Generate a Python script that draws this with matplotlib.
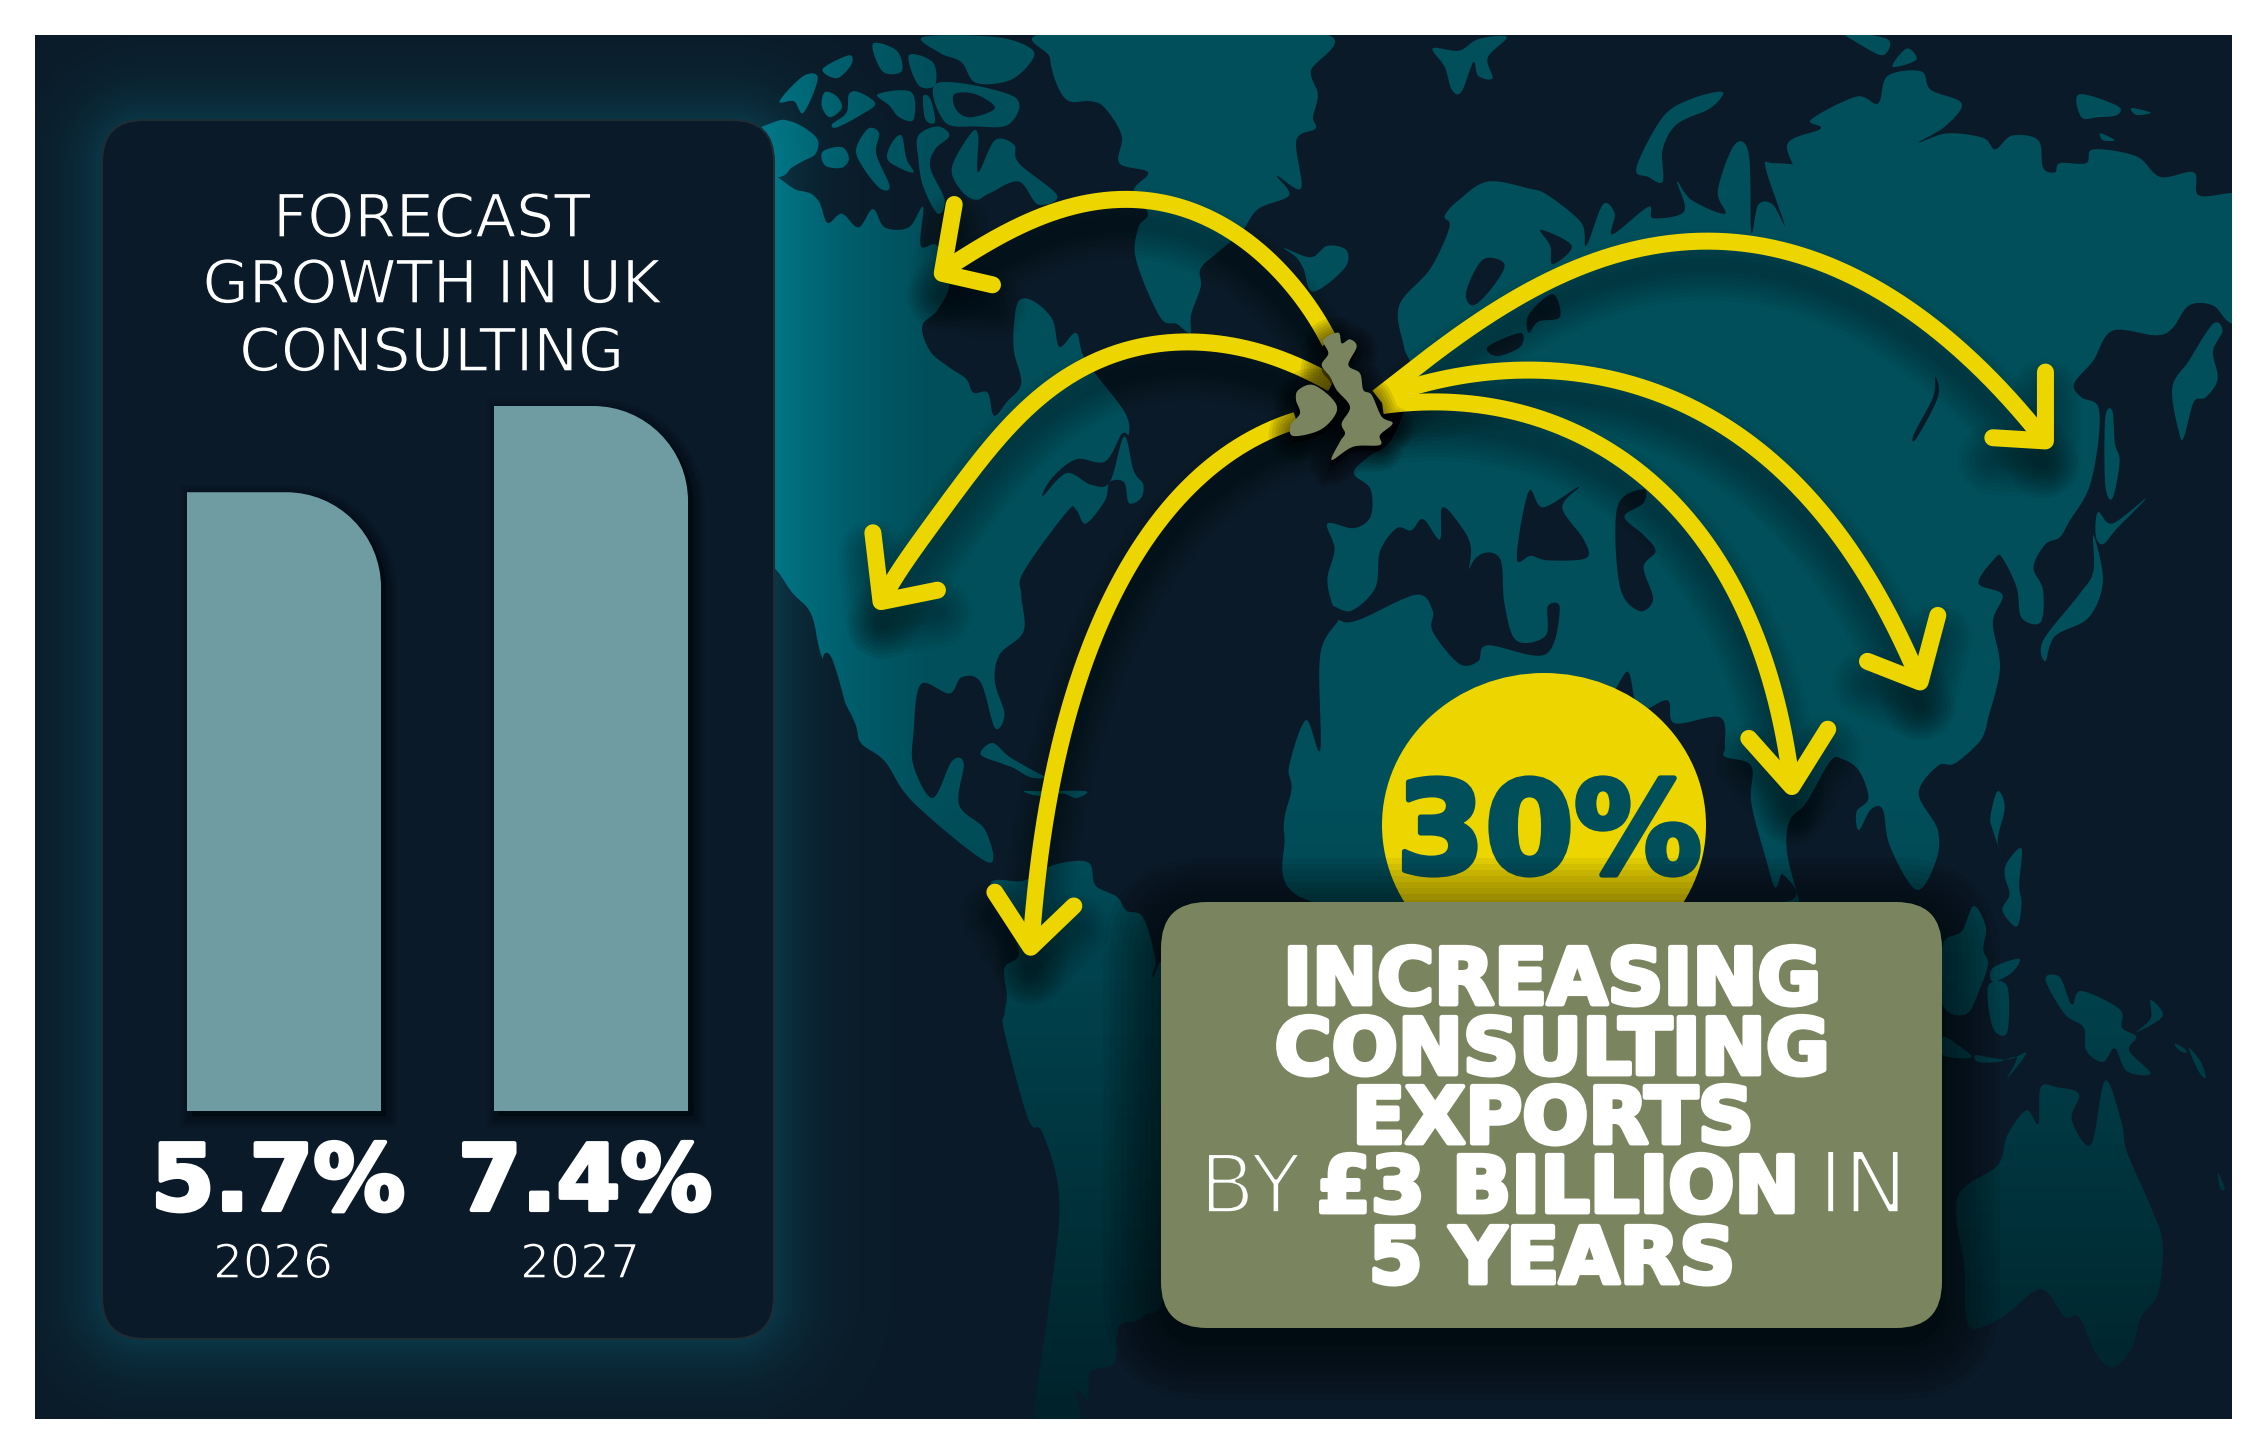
import numpy as np
import matplotlib
matplotlib.use("Agg")
import matplotlib.pyplot as plt
from matplotlib.path import Path
from matplotlib.patches import PathPatch, Rectangle, FancyBboxPatch, Ellipse
from matplotlib.transforms import Affine2D
import matplotlib.patheffects as pe

W, H = 2268, 1455

# chart values
years = ["2026", "2027"]
growth = [5.7, 7.4]

BG = "#0B1A28"
LAND = "#004F5B"
YELLOW = "#EDD600"
OLIVE = "#7A8560"
BAR = "#6F9BA3"

TILES = {"A": (770, 30), "B": (1500, 30), "C": (770, 720), "D": (1500, 720)}


def t(name, pts):
    ox, oy = TILES[name]
    return [(ox + x / 2.09, oy + y / 2.178) for x, y in pts]


def smooth(pts, n=10):
    p = np.array(pts, dtype=float)
    p = np.vstack([p[-1], p, p[0], p[1]])
    out = []
    for i in range(1, len(p) - 2):
        p0, p1, p2, p3 = p[i - 1], p[i], p[i + 1], p[i + 2]
        for s in np.linspace(0, 1, n, endpoint=False):
            out.append(0.5 * (2 * p1 + (p2 - p0) * s
                              + (2 * p0 - 5 * p1 + 4 * p2 - p3) * s ** 2
                              + (3 * p1 - p0 - 3 * p2 + p3) * s ** 3))
    return np.array(out)


def arc(pts, deg=4):
    # one clean sweep through the traced points
    p = np.array(pts, dtype=float)
    s = np.r_[0, np.cumsum(np.hypot(*np.diff(p, axis=0).T))]
    s = s / s[-1]
    wt = np.ones(len(p))
    wt[0] = wt[-1] = 6
    u = np.linspace(0, 1, 240)
    return np.c_[np.polyval(np.polyfit(s, p[:, 0], deg, w=wt), u),
                 np.polyval(np.polyfit(s, p[:, 1], deg, w=wt), u)]


def closed_path(pts):
    v = smooth(pts)
    x, y = v[:, 0], v[:, 1]
    if np.sum(x * np.roll(y, -1) - np.roll(x, -1) * y) < 0:
        v = v[::-1]
    return Path(np.vstack([v, v[0]]), closed=True)


north = t("A", [(-60, 350), (60, 350), (100, 370), (120, 420), (150, 400), (185, 430), (215, 390), (240, 430),
                (290, 430), (320, 385), (315, 470), (350, 470), (375, 550), (350, 610), (318, 645), (335, 700),
                (375, 735), (410, 760), (425, 790), (455, 790), (468, 840), (495, 810), (525, 770), (510, 700),
                (510, 640), (520, 590), (550, 590), (590, 630), (605, 690), (640, 660), (660, 720), (740, 830),
                (750, 880), (735, 880), (700, 940), (640, 935), (590, 975), (570, 1015), (620, 965), (670, 990),
                (710, 985), (740, 885), (760, 960), (780, 990), (775, 1020), (750, 1030), (740, 985), (710, 985),
                (700, 1025), (660, 1075), (640, 1045), (620, 1050), (530, 1180), (525, 1230), (530, 1310),
                (480, 1360), (470, 1420), (490, 1490), (470, 1520), (440, 1420), (400, 1410), (375, 1445),
                (315, 1425), (300, 1530)]) \
    + t("C", [(300, 100), (340, 170), (380, 90), (405, 95), (395, 185), (450, 240), (455, 310), (300, 180),
              (240, 90), (190, 50), (175, 0)]) \
    + t("A", [(110, 1370), (85, 1270), (30, 1200), (-60, 1000)])

greenland = t("A", [(590, 5), (1145, 5), (1130, 90), (1145, 140), (1135, 190), (1140, 215), (1100, 240), (1110, 345),
                    (1060, 318), (1085, 360), (1020, 390), (985, 440), (935, 485), (900, 520), (900, 560), (880, 620),
                    (878, 660), (850, 640), (815, 625), (765, 500), (770, 430), (790, 400), (760, 350), (790, 310),
                    (730, 290), (735, 230), (700, 170), (670, 155), (625, 155), (600, 120), (585, 60)])

eurasia = t("A", [(1150, 1568), (1150, 1360), (1190, 1280), (1175, 1250), (1165, 1195), (1180, 1130), (1165, 1075),
                  (1220, 1085), (1255, 1060), (1255, 1000), (1220, 965), (1250, 930), (1300, 890), (1345, 760),
                  (1325, 690), (1315, 600), (1380, 520), (1420, 430), (1410, 405), (1440, 370), (1500, 330)]) \
    + t("B", [(60, 345), (100, 360), (170, 420), (180, 470), (215, 380), (240, 400), (235, 445), (310, 385),
              (320, 410), (385, 395), (370, 330), (400, 370), (470, 400), (455, 350), (490, 250), (520, 270),
              (525, 440), (540, 380), (570, 380), (595, 425), (555, 300), (570, 290), (640, 300), (640, 340),
              (600, 250), (670, 215), (650, 195), (745, 145), (790, 160), (810, 100), (880, 90), (900, 130),
              (965, 160), (930, 210), (875, 245), (935, 225), (1010, 235), (1035, 260), (1070, 230), (1125, 240),
              (1135, 300), (1160, 310), (1170, 290), (1225, 290), (1240, 260), (1330, 275), (1380, 320), (1450, 310),
              (1460, 360), (1530, 355), (1600, 355), (1600, 640), (1530, 640), (1490, 600), (1440, 600), (1405, 650),
              (1370, 665), (1280, 655), (1240, 720), (1200, 770), (1215, 800), (1250, 820), (1250, 900), (1230, 1000),
              (1190, 1070), (1170, 1105), (1140, 1120), (1115, 1170), (1135, 1220), (1130, 1290), (1090, 1280),
              (1080, 1215), (1050, 1150), (1035, 1150), (1000, 1205), (1050, 1230), (1030, 1290), (1045, 1390),
              (1020, 1500)]) \
    + t("D", [(1015, 20), (1000, 50), (950, 95), (915, 100), (875, 160), (915, 240), (910, 310), (870, 370),
              (815, 275), (800, 195), (775, 195), (750, 240), (745, 200), (770, 170), (750, 110), (715, 85),
              (690, 90), (640, 180), (605, 220), (600, 290), (625, 395), (625, 420), (100, 420)]) \
    + t("C", [(1130, 395), (1075, 250), (1090, 150), (1085, 100), (1120, 0)])

south_america = t("C", [(460, 360), (530, 350), (595, 315), (665, 310), (680, 360), (725, 385), (745, 415), (780, 430),
                        (805, 520), (800, 560), (830, 570), (830, 1200), (780, 1300), (730, 1320), (720, 1400),
                        (670, 1420), (665, 1480), (640, 1460), (645, 1530), (555, 1530), (580, 1300), (605, 1050),
                        (570, 900), (540, 870), (490, 680), (490, 640), (495, 600), (490, 540), (520, 500)])

australia = t("D", [(1130, 800), (1165, 800), (1210, 815), (1195, 870), (1235, 925), (1265, 785), (1300, 880),
                    (1310, 940), (1360, 1060), (1385, 1140), (1375, 1250), (1340, 1300), (1320, 1370), (1280, 1410),
                    (1245, 1380), (1210, 1300), (1180, 1300), (1130, 1240), (1050, 1300), (980, 1320), (970, 1190),
                    (955, 1040), (1040, 970), (1060, 905), (1100, 850), (1125, 880)])

islands = [
    t("A", [(-60, 240), (10, 200), (40, 198), (75, 215), (100, 240), (95, 270), (70, 285), (45, 300), (20, 320), (-60, 320)]),
    t("A", [(110, 265), (150, 255), (165, 280), (150, 300), (115, 295)]),
    t("A", [(180, 260), (205, 215), (228, 225), (222, 270), (250, 340), (230, 345), (195, 300)]),
    t("A", [(255, 245), (275, 230), (285, 280), (300, 310), (270, 300), (245, 280)]),
    t("A", [(115, 135), (140, 145), (150, 170), (125, 190), (108, 165)]),
    t("A", [(165, 140), (185, 135), (220, 160), (190, 185), (140, 212), (130, 205), (160, 180)]),
    t("A", [(20, 155), (70, 100), (100, 105), (70, 180), (50, 155)]),
    t("A", [(110, 85), (165, 55), (170, 75), (140, 105)]),
    t("A", [(215, 30), (265, 45), (275, 90), (235, 90)]),
    t("A", [(290, 55), (340, 70), (345, 120), (310, 120)]),
    t("A", [(225, 140), (295, 135), (300, 195), (270, 190), (250, 165)]),
    t("A", [(320, 145), (335, 150), (345, 200), (325, 195)]),
    t("A", [(350, 115), (510, 145), (500, 205), (430, 210), (365, 200)]),
    t("A", [(310, 230), (350, 210), (375, 230), (345, 260), (335, 300), (365, 370), (350, 400), (320, 340), (310, 280)]),
    t("A", [(380, 300), (420, 225), (435, 230), (435, 310), (470, 240), (510, 250), (520, 290), (600, 360), (560, 380),
            (520, 330), (460, 355), (430, 370), (400, 350)]),
    t("A", [(320, 15), (470, 15), (545, 40), (545, 70), (500, 110), (430, 115), (400, 70), (355, 50)]),
    t("A", [(1075, 475), (1130, 495), (1165, 470), (1205, 480), (1200, 520), (1135, 570), (1115, 520), (1100, 495)]),
    t("A", [(1385, 40), (1440, 45), (1480, 20), (1540, 15), (1500, 60), (1510, 105), (1480, 100), (1470, 70),
            (1445, 135), (1425, 130), (1410, 80)]),
    t("B", [(1420, 880), (1405, 780), (1440, 720), (1490, 640), (1510, 655), (1490, 700), (1500, 760), (1475, 800),
            (1450, 810), (1430, 885)]),
    t("B", [(1250, 1050), (1280, 1075), (1350, 1020), (1290, 1085), (1260, 1120), (1245, 1100)]),
    t("B", [(1265, 845), (1280, 830), (1285, 900), (1295, 940), (1280, 1020), (1265, 990)]),
    t("B", [(1240, 1100), (1260, 1200), (1230, 1280), (1160, 1320), (1140, 1375), (1135, 1330), (1210, 1230), (1240, 1180)]),
    t("B", [(1210, 140), (1290, 165), (1290, 185), (1250, 190), (1215, 190)]),
    t("B", [(1320, 170), (1360, 180), (1330, 185)]),
    t("B", [(1255, 225), (1285, 240), (1260, 240)]),
    t("B", [(285, 300), (340, 190), (400, 150), (465, 135), (440, 170), (370, 205), (340, 260), (340, 330), (310, 320)]),
    t("B", [(720, 5), (810, 20), (800, 55), (750, 30)]),
    t("B", [(820, 80), (850, 40), (870, 65)]),
    t("C", [(440, 75), (465, 50), (500, 80), (550, 110), (575, 125), (545, 125), (510, 105), (485, 95)]),
    t("C", [(530, 155), (570, 155), (660, 155), (640, 170), (610, 160), (560, 165)]),
    t("D", [(1040, 155), (1055, 190), (1040, 260), (1050, 300), (1030, 240), (1025, 210)]),
    t("D", [(1060, 310), (1090, 280), (1085, 360), (1090, 400), (1080, 450), (1050, 415), (1065, 380), (1055, 340)]),
    t("D", [(990, 405), (1015, 450), (1010, 500), (1020, 530), (1005, 580), (975, 640), (925, 620), (925, 490), (965, 460)]),
    t("D", [(1030, 540), (1085, 520), (1070, 550), (1030, 570)]),
    t("D", [(1020, 580), (1060, 580), (1060, 680), (1030, 670)]),
    t("D", [(1140, 565), (1170, 560), (1195, 620), (1215, 590), (1295, 630), (1300, 670), (1330, 690), (1315, 720),
            (1360, 770), (1310, 765), (1285, 715), (1260, 745), (1225, 720), (1220, 670), (1180, 640)]),
    t("D", [(1360, 610), (1385, 645), (1330, 680), (1360, 650)]),
    t("D", [(925, 690), (960, 710), (985, 735), (925, 730)]),
    t("D", [(995, 730), (1060, 740), (1100, 725), (1060, 780), (1080, 735), (1040, 745), (1000, 745)]),
    t("D", [(1410, 705), (1430, 715), (1435, 725), (1420, 720)]),
    t("D", [(1440, 715), (1465, 745), (1475, 780), (1460, 765)]),
    t("D", [(1500, 985), (1515, 1020), (1505, 1020)]),
]

water = [
    t("B", [(35, 1150), (60, 1005), (90, 1040), (165, 995), (130, 1040), (175, 1110), (180, 1150), (100, 1155), (65, 1145)]),
    t("B", [(245, 1040), (300, 1000), (300, 1030), (260, 1060), (300, 1100), (325, 1135), (300, 1170), (320, 1240),
            (290, 1265), (250, 1210)]),
    t("B", [(910, 755), (915, 800), (870, 890), (865, 880), (905, 800)]),
    t("B", [(85, 435), (150, 470), (110, 510), (105, 470)]),
    t("B", [(60, 620), (110, 575), (125, 625), (80, 635), (60, 660)]),
    t("A", [(1490, 500), (1535, 510), (1510, 560), (1470, 600), (1455, 570)]),
    t("A", [(1500, 690), (1568, 660), (1568, 690), (1520, 710)]),
    t("A", [(610, 460), (650, 470), (655, 500), (640, 580), (560, 520), (600, 480)]),
    t("A", [(110, 1370), (130, 1370), (165, 1500), (165, 1540), (120, 1460)]),
    t("A", [(385, 140), (430, 140), (470, 170), (420, 190), (390, 175)]),
    t("A", [(1175, 1255), (1215, 1265), (1265, 1215), (1275, 1135), (1310, 1085), (1340, 1090), (1365, 1065), (1400, 1110),
            (1405, 1040), (1440, 1075), (1465, 1130), (1450, 1220), (1435, 1245), (1475, 1150), (1525, 1150), (1535, 1250),
            (1560, 1330)]) + t("B", [(95, 1320), (100, 1255), (125, 1260), (95, 1360)])
    + t("A", [(1500, 1340), (1480, 1375), (1440, 1380), (1385, 1310), (1385, 1265), (1350, 1230), (1230, 1285), (1190, 1285)]),
    t("B", [(262, 1400), (290, 1480), (350, 1460), (365, 1510), (460, 1497), (470, 1560)])
    + t("D", [(470, 80), (525, 100), (525, 180), (555, 300), (575, 365), (590, 335), (600, 395), (300, 395), (200, 100)]),
]

uk_main = [(1250 + x / 3, 310 + y / 3) for x, y in
           [(220, 90), (265, 68), (275, 100), (300, 88), (320, 110), (295, 165), (330, 190), (340, 240), (365, 255),
            (395, 320), (428, 340), (390, 375), (390, 405), (310, 410), (245, 450), (270, 395), (285, 370), (275, 340),
            (300, 290), (260, 240), (240, 200), (215, 165), (235, 130)]]
uk_ireland = [(1250 + x / 3, 310 + y / 3) for x, y in
              [(145, 240), (190, 225), (250, 270), (258, 310), (210, 360), (130, 378), (122, 345), (150, 310), (138, 270)]]

# arrows: line through the points, then the two barbs around the tip
arrows = [
    (t("A", [(1170, 680), (1020, 480), (880, 395), (720, 368), (560, 410), (360, 525)]),
     t("A", [(385, 380), (360, 530), (465, 555)]), 4),
    (t("A", [(1175, 770), (1100, 730), (1030, 705), (950, 685), (870, 680), (780, 690), (700, 710), (610, 765),
             (530, 830), (460, 915), (400, 985), (320, 1105), (235, 1240)]),
     t("A", [(215, 1095), (232, 1245), (350, 1220)]), 6),
    (t("A", [(1100, 850), (950, 930), (820, 1060), (700, 1260), (610, 1568)])
     + t("C", [(580, 170), (550, 400), (545, 495)]),
     t("C", [(470, 375), (545, 495), (635, 405)]), 4),
    (t("A", [(1270, 800), (1568, 590)])
     + t("B", [(200, 490), (430, 462), (640, 495), (850, 610), (1000, 730), (1135, 890)]),
     t("B", [(1140, 745), (1140, 895), (1030, 888)]), 4),
    (t("A", [(1290, 795), (1568, 745)])
     + t("B", [(90, 740), (300, 775), (500, 885), (680, 1070), (800, 1240), (878, 1420)]),
     t("B", [(915, 1275), (878, 1420), (768, 1375)]), 4),
    (t("A", [(1280, 818), (1568, 840)])
     + t("B", [(200, 890), (350, 1020), (480, 1210), (570, 1420)]) + t("D", [(610, 145)]),
     t("D", [(520, 40), (610, 145), (685, 20)]), 4),
]

fig = plt.figure(figsize=(W / 100, H / 100), dpi=100, facecolor="white")
ax = fig.add_axes([0, 0, 1, 1])
ax.set_xlim(0, W)
ax.set_ylim(H, 0)
ax.axis("off")

FX0, FX1, FY0, FY1 = 35, 2232, 35, 1419
ax.add_patch(Rectangle((FX0, FY0), FX1 - FX0, FY1 - FY0, fc=BG, ec="none", zorder=0))

# land with its colour ramps
yy, xx = np.mgrid[FY0:FY1, FX0:FX1]
top = np.array(matplotlib.colors.to_rgb(LAND))
low = np.array(matplotlib.colors.to_rgb("#00222A"))
lit = np.array(matplotlib.colors.to_rgb("#00707F"))
v = np.clip((yy - 800) / 620.0, 0, 1)[..., None]
h = np.clip((950 - xx) / 180.0, 0, 1)[..., None] ** 1.5 * (1 - v)
land_rgb = top * (1 - v) + low * v
land_rgb = land_rgb * (1 - h) + lit * h
land_paths = [closed_path(p) for p in [north, greenland, eurasia, south_america, australia] + islands]
land_path = Path.make_compound_path(*land_paths)
im = ax.imshow(land_rgb, extent=(FX0, FX1, FY1, FY0), zorder=1, aspect="auto", interpolation="nearest")
im.set_clip_path(land_path, ax.transData)
ax.set_xlim(0, W)
ax.set_ylim(H, 0)

for p in water:
    ax.add_patch(PathPatch(closed_path(p), fc=BG, ec="none", zorder=2))

# teal glow around the panel
PX0, PX1, PY0, PY1, PR = 102, 774, 120, 1339, 42
qx = np.abs(xx - (PX0 + PX1) / 2) - ((PX1 - PX0) / 2 - PR)
qy = np.abs(yy - (PY0 + PY1) / 2) - ((PY1 - PY0) / 2 - PR)
dist = np.hypot(np.maximum(qx, 0), np.maximum(qy, 0)) - PR
glow = np.zeros(dist.shape + (4,))
glow[..., :3] = matplotlib.colors.to_rgb("#0A8FA5")
glow[..., 3] = 0.25 * np.exp(-np.clip(dist, 0, None) / 38.0)
ax.imshow(glow, extent=(FX0, FX1, FY1, FY0), zorder=3, aspect="auto", interpolation="bilinear")
ax.set_xlim(0, W)
ax.set_ylim(H, 0)

panel = FancyBboxPatch((PX0 + PR, PY0 + PR), PX1 - PX0 - 2 * PR, PY1 - PY0 - 2 * PR,
                       boxstyle="round,pad=%d,rounding_size=%d" % (PR, PR), fc=BG, ec="#1E2C34", lw=1.5, zorder=4)
ax.add_patch(panel)

# arrows with soft shadows
PT = 0.72
for line, head, deg in arrows:
    curve = arc(line, deg)
    hx, hy = np.array(head).T
    for w in range(4, 64, 8):
        ax.plot(curve[:, 0], curve[:, 1] + 24, color="black", lw=(10 + w) * PT, alpha=0.035,
                solid_capstyle="round", zorder=5)
        ax.plot(hx, hy + 22, color="black", lw=(10 + w) * PT, alpha=0.035, solid_capstyle="round",
                solid_joinstyle="round", zorder=5)
for line, head, deg in arrows:
    curve = arc(line, deg)
    hx, hy = np.array(head).T
    ax.plot(curve[:, 0], curve[:, 1], color=YELLOW, lw=17 * PT, solid_capstyle="butt", zorder=6)
    ax.plot(hx, hy, color=YELLOW, lw=17 * PT, solid_capstyle="round", solid_joinstyle="round", zorder=6)

# UK on top, darkening what is under it
uk_paths = [closed_path(uk_main), closed_path(uk_ireland)]
for w in range(6, 48, 6):
    for p in uk_paths:
        ax.add_patch(PathPatch(p, fc="black", ec="black", lw=w * PT, alpha=0.09, zorder=7,
                               transform=Affine2D().translate(0, 5) + ax.transData))
for p in uk_paths:
    ax.add_patch(PathPatch(p, fc=OLIVE, ec="none", zorder=8))

# yellow disc and card
ax.add_patch(Ellipse((1544, 825), 324, 304, fc=YELLOW, ec="none", zorder=9))
ax.text(1549, 873, "30%", color=LAND, fontsize=92, fontweight="bold", family="DejaVu Sans",
        ha="center", va="baseline", zorder=10,
        path_effects=[pe.withStroke(linewidth=4, foreground=LAND)])

CX0, CX1, CY0, CY1, CR = 1161, 1942, 902, 1328, 46
for g in range(4, 64, 6):
    ax.add_patch(FancyBboxPatch((CX0 + CR, CY0 + CR + 14), CX1 - CX0 - 2 * CR, CY1 - CY0 - 2 * CR,
                                boxstyle="round,pad=%d,rounding_size=%d" % (CR + g, CR + g),
                                fc="black", ec="none", alpha=0.055, zorder=11))
ax.add_patch(FancyBboxPatch((CX0 + CR, CY0 + CR), CX1 - CX0 - 2 * CR, CY1 - CY0 - 2 * CR,
                            boxstyle="round,pad=%d,rounding_size=%d" % (CR, CR), fc=OLIVE, ec="none", zorder=12))

heavy = [pe.withStroke(linewidth=3.5, foreground="white")]
light = [pe.Stroke(linewidth=2.6, foreground=OLIVE)]
thin = [pe.Stroke(linewidth=1.0, foreground=BG)]
card_lines = [("INCREASING", 1552, 1004), ("CONSULTING", 1552, 1074), ("EXPORTS", 1553, 1143),
              ("£3 BILLION", 1558, 1212), ("5 YEARS", 1552, 1283)]
for txt, x, y in card_lines:
    ax.text(x, y, txt, color="white", fontsize=56, fontweight="bold", family="DejaVu Sans",
            ha="center", va="baseline", zorder=13, path_effects=heavy)
ax.text(1250, 1213, "BY", color="white", fontsize=59, family="DejaVu Sans", ha="center", va="baseline",
        zorder=13, path_effects=light)
ax.text(1863, 1213, "IN", color="white", fontsize=62, family="DejaVu Sans", ha="center", va="baseline",
        zorder=13, path_effects=light)

title_lines = [("FORECAST", 237), ("GROWTH IN UK", 303), ("CONSULTING", 371)]
for txt, y in title_lines:
    ax.text(432, y, txt, color="white", fontsize=43, family="DejaVu Sans", ha="center", va="baseline",
            zorder=13, path_effects=thin)

# bars get their own axes; the y scale has its floor below zero as in the picture
BAR_PX_L, BAR_PX_R, BAR_PX_T, BAR_PX_B = 130, 745, 300, 1111
ax_bars = fig.add_axes([BAR_PX_L / W, 1 - BAR_PX_B / H, (BAR_PX_R - BAR_PX_L) / W, (BAR_PX_B - BAR_PX_T) / H])
ax_bars.patch.set_alpha(0)
ax_bars.axis("off")
floor = -6.5
ax_bars.set_xlim(-0.5016, 1.5016)
ax_bars.set_ylim(floor, 9.49)
bars = ax_bars.bar(range(len(growth)), np.array(growth) - floor, bottom=floor, width=0.632, color=BAR, zorder=3)

rx = 95 / 307.0
ry = 95 / 50.6
k = 0.5523
for i, b in enumerate(bars):
    x0, x1 = b.get_x(), b.get_x() + b.get_width()
    y0, y1 = b.get_y(), b.get_y() + b.get_height()
    outline = Path([(x0, y0), (x0, y1), (x1 - rx, y1), (x1 - rx + k * rx, y1), (x1, y1 - ry + k * ry), (x1, y1 - ry),
                    (x1, y0), (x0, y0)],
                   [Path.MOVETO, Path.LINETO, Path.LINETO, Path.CURVE4, Path.CURVE4, Path.CURVE4, Path.LINETO,
                    Path.CLOSEPOLY])
    b.set_clip_path(outline, ax_bars.transData)
    for w in range(4, 28, 4):
        sh = PathPatch(outline, fc="black", ec="black", lw=w * PT, alpha=0.05, zorder=1, clip_on=False,
                       transform=ax_bars.transData + Affine2D().translate(5, -5))
        ax_bars.add_patch(sh)
    ax_bars.annotate("%.1f%%" % growth[i], xy=(i, floor), xytext=(-6, -99), textcoords="offset pixels",
                     color="white", fontsize=66, fontweight="bold", family="DejaVu Sans", ha="center",
                     va="baseline", annotation_clip=False, path_effects=[pe.withStroke(linewidth=3, foreground="white")])
    ax_bars.annotate(years[i], xy=(i, floor), xytext=(-11, -167), textcoords="offset pixels",
                     color="white", fontsize=34, family="DejaVu Sans", ha="center", va="baseline",
                     annotation_clip=False, path_effects=[pe.Stroke(linewidth=1.0, foreground=BG)])

fig.savefig("out.png", dpi=100)
